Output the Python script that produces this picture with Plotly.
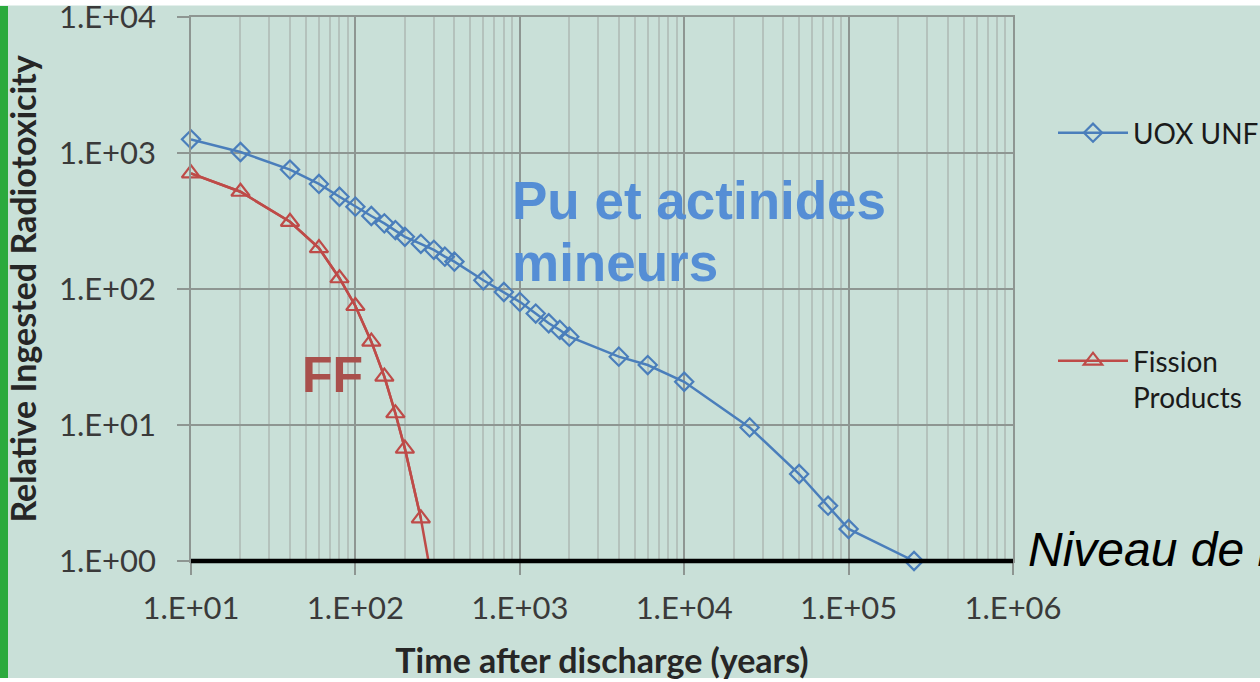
import plotly.graph_objects as go

# ---------------- data ----------------
years_uox = [10, 20, 40, 60, 80, 100, 125, 150, 175, 200, 250, 300, 350, 400,
             600, 800, 1000, 1250, 1500, 1750, 2000, 4000, 6000, 10000,
             25000, 50000, 75000, 100000, 250000]
tox_uox = [1260, 1017, 755, 592, 477, 403, 344, 304, 271, 242, 215, 194, 173, 159,
           116, 95, 80.5, 66, 56, 50, 44.6, 31.8, 27.6, 20.8,
           9.6, 4.36, 2.55, 1.72, 1.0]

years_fp = [10, 20, 40, 60, 80, 100, 125, 150, 175, 200, 250, 300]
tox_fp = [709, 519, 312, 200, 120, 75, 41, 22.7, 12.2, 6.7, 2.06, 0.6]

x_tickvals = [1e1, 1e2, 1e3, 1e4, 1e5, 1e6]
x_ticktext = ["1.E+01", "1.E+02", "1.E+03", "1.E+04", "1.E+05", "1.E+06"]
y_tickvals = [1e0, 1e1, 1e2, 1e3, 1e4]
y_ticktext = ["1.E+00", "1.E+01", "1.E+02", "1.E+03", "1.E+04"]

name_uox = "UOX UNF"
name_fp = "Fission<br>Products"
xtitle = "Time after discharge (years)"
ytitle = "Relative Ingested Radiotoxicity"
label_pu1 = "Pu et actinides"
label_pu2 = "mineurs"
label_ff = "FF"
label_level = "Niveau de l'uranium naturel"

# ---------------- styles ----------------
W, H = 1260, 682
L, R, T, B = 191, 247, 17, 121
BG = "#C9E0D8"
BLUE = "#4A7EBB"
RED = "#BE4B48"
MAJ = "#8E9692"
MINOR = "#B4C2BC"
FONT = "Lato"


def pxx(px):
    return (px - L) / (W - L - R)


def pxy(py):
    return (H - B - py) / (H - T - B)


fig = go.Figure()

fig.add_trace(go.Scatter(
    x=years_uox, y=tox_uox, name=name_uox, mode="lines+markers",
    line=dict(color=BLUE, width=2.5),
    marker=dict(symbol="diamond-open", size=14, color=BLUE, line=dict(width=2.2, color=BLUE)),
    cliponaxis=False, legend="legend",
))

# full red curve (line clipped by the plot area)
fig.add_trace(go.Scatter(
    x=years_fp, y=tox_fp, mode="lines", showlegend=False,
    line=dict(color=RED, width=2.5), hoverinfo="skip",
))
fp_vis = [(t, v) for t, v in zip(years_fp, tox_fp) if v >= 1]
fig.add_trace(go.Scatter(
    x=[p[0] for p in fp_vis], y=[p[1] for p in fp_vis], name=name_fp,
    mode="lines+markers",
    line=dict(color=RED, width=2.5),
    marker=dict(symbol="triangle-up-open", size=16, color=RED, line=dict(width=2.2, color=RED)),
    cliponaxis=False, legend="legend2",
))

minor_x = [k * 10 ** d for d in range(1, 6) for k in range(2, 10)]

fig.update_xaxes(
    type="log", range=[1, 6],
    tickmode="array", tickvals=x_tickvals, ticktext=x_ticktext,
    showgrid=True, gridcolor=MAJ, gridwidth=1.5,
    minor=dict(tickmode="array", tickvals=minor_x, showgrid=True, gridcolor=MINOR, gridwidth=1.5, ticks=""),
    ticks="outside", ticklen=12, tickcolor=MAJ, tickwidth=1.5,
    showline=True, linecolor=MAJ, linewidth=1.5, mirror=True,
    zeroline=False,
    tickfont=dict(family=FONT, size=31, color="#3a3a3a"),
    ticklabelstandoff=7, ticklabeloverflow="allow",
    title=dict(text="<b>" + xtitle + "</b>", font=dict(family=FONT, size=34, color="#262626"), standoff=24),
)
fig.update_yaxes(
    type="log", range=[0, 4],
    tickmode="array", tickvals=y_tickvals, ticktext=y_ticktext,
    showgrid=True, gridcolor=MAJ, gridwidth=1.5,
    ticks="outside", ticklen=12, tickcolor=MAJ, tickwidth=1.5,
    showline=True, linecolor=MAJ, linewidth=1.5, mirror=True,
    zeroline=False,
    tickfont=dict(family=FONT, size=31, color="#3a3a3a"),
    ticklabelstandoff=15, ticklabeloverflow="allow",
    title=dict(text="<b>" + ytitle + "</b>", font=dict(family=FONT, size=34, color="#262626"), standoff=12),
)

shapes = [
    # reference level line at 1.E+00
    dict(type="line", xref="paper", yref="paper", x0=0, x1=1, y0=0, y1=0,
         line=dict(color="black", width=4.5), layer="above"),
    # green band on the left
    dict(type="rect", xref="paper", yref="paper", x0=pxx(0), x1=pxx(8), y0=pxy(678), y1=pxy(6),
         fillcolor="#2BAA3D", line=dict(width=0), layer="above"),
    # white strip at top
    dict(type="rect", xref="paper", yref="paper", x0=pxx(-5), x1=pxx(1265), y0=pxy(5.5), y1=pxy(-5),
         fillcolor="white", line=dict(width=0), layer="above"),
    # white strip at bottom
    dict(type="rect", xref="paper", yref="paper", x0=pxx(-5), x1=pxx(1265), y0=pxy(690), y1=pxy(678),
         fillcolor="white", line=dict(width=0), layer="above"),
]

annotations = [
    dict(text="<b>" + label_pu1 + "</b>", xref="paper", yref="paper", x=pxx(510), y=pxy(200),
         xanchor="left", yanchor="middle", showarrow=False,
         font=dict(family="Liberation Sans", size=53, color="#558ED5")),
    dict(text="<b>" + label_pu2 + "</b>", xref="paper", yref="paper", x=pxx(510), y=pxy(262),
         xanchor="left", yanchor="middle", showarrow=False,
         font=dict(family="Liberation Sans", size=53, color="#558ED5")),
    dict(text="<b>" + label_ff + "</b>", xref="paper", yref="paper", x=pxx(300), y=pxy(375),
         xanchor="left", yanchor="middle", showarrow=False,
         font=dict(family="Liberation Sans", size=50, color="#A9504C")),
    dict(text="<i>" + label_level + "</i>", xref="paper", yref="paper", x=pxx(1026), y=pxy(549),
         xanchor="left", yanchor="middle", showarrow=False,
         font=dict(family="Liberation Sans", size=48, color="black")),
]

fig.update_layout(
    width=W, height=H,
    margin=dict(l=L, r=R, t=T, b=B, autoexpand=False),
    paper_bgcolor=BG, plot_bgcolor=BG,
    shapes=shapes, annotations=annotations,
    legend=dict(x=pxx(1053), y=pxy(133), xanchor="left", yanchor="middle",
                bgcolor="rgba(0,0,0,0)", font=dict(family=FONT, size=28, color="#1a1a1a"),
                itemwidth=70, valign="top"),
    legend2=dict(x=pxx(1053), y=pxy(379), xanchor="left", yanchor="middle",
                 bgcolor="rgba(0,0,0,0)", font=dict(family=FONT, size=28, color="#1a1a1a"),
                 itemwidth=70, valign="top"),
    showlegend=True,
)

fig.write_html("out.html")
